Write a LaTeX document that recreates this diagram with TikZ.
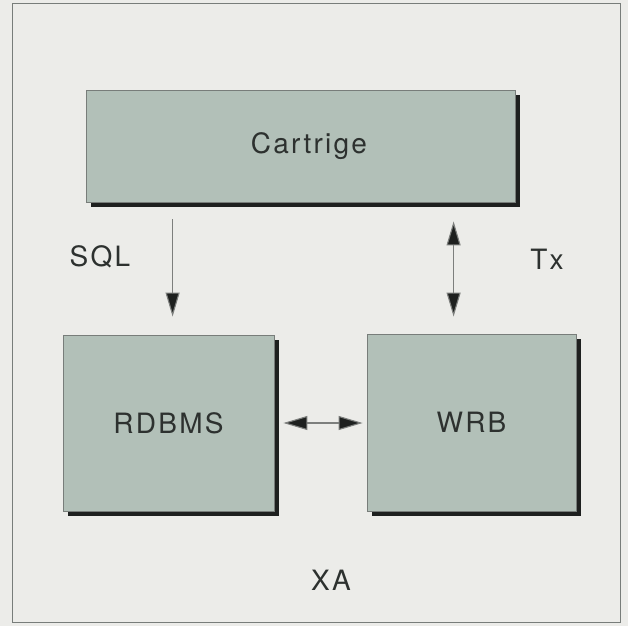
\documentclass[tikz,border=0pt]{standalone}
\usepackage{fontspec}
\setmainfont{TeX Gyre Heros}[LetterSpace=8]
\usetikzlibrary{arrows.meta,shadows}
\definecolor{bg}{RGB}{236,236,233}
\definecolor{boxfill}{RGB}{178,192,184}
\definecolor{boxedge}{RGB}{120,125,122}
\definecolor{ink}{RGB}{45,49,47}
\definecolor{shade}{RGB}{30,32,31}
\definecolor{arrowline}{RGB}{125,127,125}
\tikzset{
  box/.style={draw=boxedge, line width=0.8pt, fill=boxfill, inner sep=0pt,
    text=ink, font=\fontsize{28}{30}\selectfont,
    drop shadow={shadow xshift=5pt, shadow yshift=-5pt, fill=shade, opacity=1}},
  lbl/.style={text=ink, font=\fontsize{28}{30}\selectfont, inner sep=0pt},
  tip/.style={},
  arr/.style={draw=arrowline, line width=1.1pt, -{Triangle[length=24pt,width=14pt,fill=shade]}},
  darr/.style={draw=arrowline, line width=1.1pt, {Triangle[length=24pt,width=14pt,fill=shade]}-{Triangle[length=24pt,width=14pt,fill=shade]}}
}
\begin{document}
\begin{tikzpicture}[x=1pt,y=-1pt]
\fill[bg] (0,0) rectangle (628,626);
\useasboundingbox (0,0) rectangle (628,626);
\draw[boxedge, line width=1pt] (12,4) rectangle (620,622);
\node[box, minimum width=429pt, minimum height=112pt] (cart) at (300.5,146) {\hspace*{17pt}Cartrige};
\node[box, minimum width=211pt, minimum height=176pt] (rdbms) at (168.5,423) {RDBMS};
\node[box, minimum width=209pt, minimum height=177pt] (wrb) at (471.5,422.5) {\raisebox{-4pt}{WRB}};
\draw[arr] ([xshift=87pt,yshift=-17pt]cart.south west) -- ([xshift=110pt,yshift=18pt]rdbms.north west);
\draw[darr] ([xshift=368pt,yshift=-19pt]cart.south west) -- ([xshift=87pt,yshift=17pt]wrb.north west);
\draw[darr] ([xshift=9pt]rdbms.east) -- ([xshift=-4pt]rdbms.east -| wrb.west);
\node[lbl] (sql) at (100,257) {SQL};
\node[lbl] (tx) at (547,259) {Tx};
\node[lbl] (xa) at (331,580) {XA};
\end{tikzpicture}
\end{document}
